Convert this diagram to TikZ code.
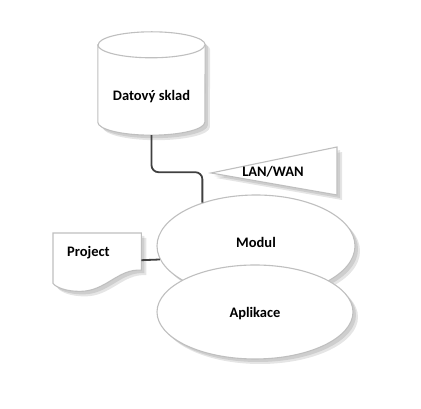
\documentclass[tikz,border=0pt]{standalone}
\usepackage{fontspec}
\setmainfont{Carlito}
\usepackage{tikz}
\usetikzlibrary{shapes.geometric, shadows, backgrounds}

\begin{document}
\begin{tikzpicture}[x=1pt, y=1pt,
    lbl/.style={font=\bfseries\fontsize{14.5}{17}\selectfont, text=black},
    outline/.style={draw=gray!50, line width=1.1pt, fill=white,
      drop shadow={shadow xshift=5pt, shadow yshift=-5pt, opacity=0.1, fill=black},
      drop shadow={shadow xshift=3pt, shadow yshift=-3pt, opacity=0.1, fill=black}},
    oval/.style={ellipse, outline, inner sep=0pt, lbl},
    link/.style={draw=black!75, line width=1.8pt}]
    \useasboundingbox (0,0) rectangle (421,409);

    % Draw data store
    \node[lbl, minimum width=107, minimum height=77] (ds) at (151.5,312.5) {Datový sklad};
    \begin{scope}[on background layer]
      \draw[outline] ([yshift=13pt]ds.north west) -- ([yshift=13pt]ds.south west)
        arc[start angle=180, end angle=360, x radius=53.5, y radius=13]
        -- ([yshift=13pt]ds.north east)
        arc[start angle=0, end angle=180, x radius=53.5, y radius=13] -- cycle;
      \draw[draw=gray!50, line width=1.1pt] ([yshift=13pt]ds.north west)
        arc[start angle=180, end angle=360, x radius=53.5, y radius=13];
    \end{scope}

    % Draw network
    \node[lbl] (lan) at (273,237) {LAN/WAN};
    \begin{scope}[on background layer]
      \draw[outline] (211,236) -- (337,262) -- (337,214) -- cycle;
    \end{scope}

    % Draw project document
    \node[lbl, anchor=north west, minimum width=88, minimum height=54, text width=60,
      align=left, inner xsep=14, inner ysep=4, text height=19.5, text depth=26.5]
      (proj) at (53,176) {Project};
    \begin{scope}[on background layer]
      \draw[outline] (proj.north west) -- (proj.north east) -- ([yshift=-10pt]proj.east)
        .. controls ([shift={(65pt,19pt)}]proj.south west) and ([shift={(53pt,-4pt)}]proj.south west)
        .. ([shift={(27pt,-4pt)}]proj.south west)
        .. controls ([shift={(13pt,-4pt)}]proj.south west) and ([shift={(3pt,0pt)}]proj.south west)
        .. ([yshift=4pt]proj.south west) -- cycle;
    \end{scope}

    % Draw module and application
    \node[oval, minimum width=198, minimum height=102, text depth=8pt] (modul) at (256,163) {Modul};
    \node[oval, minimum width=196, minimum height=94, text height=14pt] (apl) at (255,97) {Aplikace};

    % Connect them
    \draw[link, rounded corners=7pt] (ds.south) -- ++(0,-37) -| (modul.141);
    \draw[link] (proj.east) -- (modul.188);
\end{tikzpicture}
\end{document}
